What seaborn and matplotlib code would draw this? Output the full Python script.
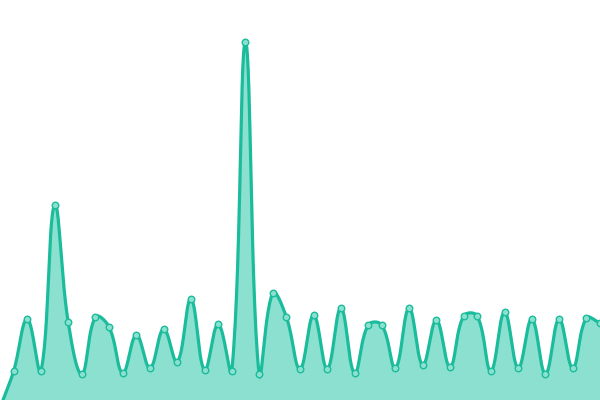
import matplotlib
matplotlib.use("Agg")
import matplotlib.pyplot as plt
import seaborn as sns
import numpy as np
import pandas as pd

# values (0 = bottom edge, 400 = top edge)
idx = list(range(45))
values = [-8, 29, 81, 29, 195, 78, 26, 83, 73, 27, 65, 32, 71, 38, 101, 30, 76, 29,
          358, 26, 107, 83, 31, 85, 31, 92, 27, 75, 75, 32, 92, 35, 80, 33, 84, 84,
          29, 88, 32, 81, 26, 81, 32, 82, 77]

LINE = "#1abc9c"
FILL = "#8ce0cf"
W, H = 600, 400


def spline(xs, ys, tension=0.4, n=30):
    # chart.js style cubic bezier smoothing, done in pixel space
    px = np.asarray(xs, float) * W / (len(xs) - 1)
    py = np.asarray(ys, float)
    m = len(px)
    cp_prev = np.zeros((m, 2))
    cp_next = np.zeros((m, 2))
    for i in range(m):
        p0 = (px[max(i - 1, 0)], py[max(i - 1, 0)])
        p1 = (px[i], py[i])
        p2 = (px[min(i + 1, m - 1)], py[min(i + 1, m - 1)])
        d01 = np.hypot(p1[0] - p0[0], p1[1] - p0[1])
        d12 = np.hypot(p2[0] - p1[0], p2[1] - p1[1])
        s01 = d01 / (d01 + d12) if d01 + d12 else 0
        s12 = d12 / (d01 + d12) if d01 + d12 else 0
        fa, fb = tension * s01, tension * s12
        cp_prev[i] = (p1[0] - fa * (p2[0] - p0[0]), p1[1] - fa * (p2[1] - p0[1]))
        cp_next[i] = (p1[0] + fb * (p2[0] - p0[0]), p1[1] + fb * (p2[1] - p0[1]))
    t = np.linspace(0, 1, n)[:, None]
    out = []
    for i in range(m - 1):
        a = np.array([px[i], py[i]])
        b = cp_next[i]
        c = cp_prev[i + 1]
        d = np.array([px[i + 1], py[i + 1]])
        seg = (1 - t) ** 3 * a + 3 * (1 - t) ** 2 * t * b + 3 * (1 - t) * t ** 2 * c + t ** 3 * d
        out.append(seg if i == 0 else seg[1:])
    out = np.vstack(out)
    return out[:, 0] * (len(xs) - 1) / W, out[:, 1]


sns.set_style("white")
fig = plt.figure(figsize=(6, 4), dpi=100)
ax = fig.add_axes([0, 0, 1, 1])

cx, cy = spline(idx, values)
ax.fill_between(cx, -50, cy, color=FILL, linewidth=0)
ax.plot(cx, cy, color=LINE, linewidth=2.3, solid_capstyle="round")

df = pd.DataFrame({"i": idx, "v": values})
sns.scatterplot(data=df, x="i", y="v", ax=ax, s=22, color=FILL,
                edgecolor=LINE, linewidth=1.0, zorder=3)

ax.set_xlim(0, len(idx) - 1)
ax.set_ylim(0, H)
ax.axis("off")

fig.savefig("out.png", dpi=100)
